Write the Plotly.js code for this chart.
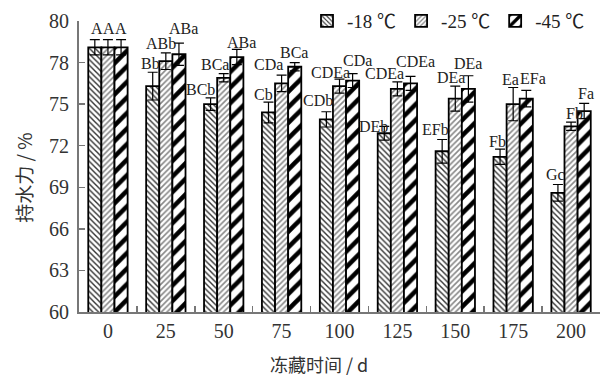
<!DOCTYPE html>
<html>
<head>
<meta charset="utf-8">
<script src="https://cdn.plot.ly/plotly-3.0.1.min.js"></script>
<style>
  html, body { margin: 0; padding: 0; background: #fff; }
  #chart { width: 600px; height: 376px; }
</style>
</head>
<body>
<div id="chart"></div>
<script>
// Storage time (days)
const days = ['0', '25', '50', '75', '100', '125', '150', '175', '200'];

// Water-holding capacity (%) and standard deviations for each freezing temperature
const series = ['-18 ℃', '-25 ℃', '-45 ℃'];
const whc18 = [79.1, 76.3, 75.0, 74.4, 73.9, 72.9, 71.6, 71.2, 68.6];
const sd18  = [0.55, 1.0, 0.45, 0.75, 0.55, 0.5, 0.85, 0.55, 0.6];
const whc25 = [79.1, 78.1, 76.9, 76.5, 76.3, 76.1, 75.4, 75.0, 73.4];
const sd25  = [0.55, 0.6, 0.3, 0.6, 0.5, 0.5, 0.9, 1.2, 0.3];
const whc45 = [79.1, 78.6, 78.4, 77.7, 76.7, 76.5, 76.1, 75.4, 74.5];
const sd45  = [0.55, 0.8, 0.55, 0.3, 0.5, 0.5, 0.95, 0.6, 0.55];

// Significance letters
const sig18 = ['A', 'Bb', 'BCb', 'Cb', 'CDb', 'DEb', 'EFb', 'Fb', 'Gc'];
const sig25 = ['A', 'ABb', 'BCa', 'CDa', 'CDEa', 'CDEa', 'DEa', 'Ea', 'Fb'];
const sig45 = ['A', 'ABa', 'ABa', 'BCa', 'CDa', 'CDEa', 'DEa', 'EFa', 'Fa'];

// Y axis ticks
const yTickVals = [60, 63, 66, 69, 72, 75, 78, 81];
const yTickText = ['60', '63', '66', '69', '72', '75', '78', '80'];

// Letter placement nudges (px): horizontal from group centre, vertical above error-bar tip
const sigDx = [
  [-11, -15.2, -23, -18, -21.3, -23.9, -19.7, -15.5, -15.8],
  [1, -4.7, -8.8, -13, -9.1, -12.9, -4.7, -2.5, 3.7],
  [13, 17.6, 18.2, 12.7, 17.6, 17.8, 12.3, 19.5, 14.7]
];
const sigDy = [
  [11.5, 9, 8, 7.2, 10.9, 0, 9.6, 7.6, 9.7],
  [11.5, 9.6, 8.7, 10.1, 7, 8.8, 8.9, 7.6, 8.3],
  [11.5, 15, 6.8, 9.9, 13, 14.8, 12.5, 11.9, 9.6]
];

const SERIF = 'Liberation Serif, "Noto Sans CJK SC", serif';
const CJK = '"Noto Sans CJK SC", Liberation Serif, sans-serif';

const values = [whc18, whc25, whc45];
const errors = [sd18, sd25, sd45];
const letters = [sig18, sig25, sig45];
const patterns = [
  { shape: '\\', size: 4, solidity: 0.35, fgcolor: '#333', bgcolor: '#fff', fillmode: 'replace' },
  { shape: '/', size: 4, solidity: 0.4, fgcolor: '#888', bgcolor: '#fff', fillmode: 'replace' },
  { shape: '/', size: 11, solidity: 0.42, fgcolor: '#000', bgcolor: '#fff', fillmode: 'replace' }
];

const traces = series.map((name, i) => ({
  type: 'bar',
  name: name,
  x: days,
  y: values[i],
  marker: {
    color: '#fff',
    pattern: patterns[i],
    line: { color: '#000', width: 1.8 }
  },
  error_y: {
    type: 'data',
    array: errors[i],
    visible: true,
    color: '#000',
    thickness: 1.2,
    width: 5
  }
}));

const annotations = [];
for (let i = 0; i < 3; i++) {
  for (let j = 0; j < days.length; j++) {
    annotations.push({
      // category axes take the serial index of the category
      x: j,
      y: values[i][j] + errors[i][j],
      xref: 'x', yref: 'y',
      text: letters[i][j],
      showarrow: false,
      xanchor: 'center', yanchor: 'middle',
      xshift: sigDx[i][j],
      yshift: sigDy[i][j],
      font: { family: SERIF, size: 16, color: '#222' }
    });
  }
}

// Axis titles
annotations.push({
  xref: 'paper', yref: 'paper',
  x: (319 - 79) / 521, y: -0.18,
  text: '冻藏时间 / d',
  showarrow: false, xanchor: 'center', yanchor: 'middle',
  font: { family: CJK, size: 18, color: '#333' }
});
annotations.push({
  xref: 'paper', yref: 'paper',
  x: -0.108, y: 0.46,
  text: '持水力 / %',
  textangle: -90,
  showarrow: false, xanchor: 'center', yanchor: 'middle',
  font: { family: CJK, size: 19, color: '#333' }
});

const layout = {
  width: 600,
  height: 376,
  margin: { l: 79, r: 0, t: 21, b: 64 },
  paper_bgcolor: '#fff',
  plot_bgcolor: '#fff',
  barmode: 'group',
  bargap: 0.32,
  bargroupgap: 0,
  showlegend: true,
  legend: {
    orientation: 'h',
    x: (590 - 79) / 521, xanchor: 'right',
    y: 1.0, yanchor: 'middle',
    font: { family: SERIF, size: 19, color: '#222' },
    bgcolor: 'rgba(0,0,0,0)',
    itemwidth: 30
  },
  xaxis: {
    type: 'category',
    range: [-0.5, 8.5],
    showline: true,
    linecolor: '#777',
    linewidth: 2,
    ticks: 'inside',
    tickson: 'boundaries',
    ticklen: 6,
    tickcolor: '#777',
    tickwidth: 1.5,
    showgrid: false,
    zeroline: false,
    tickangle: 0,
    tickfont: { family: SERIF, size: 20, color: '#333' },
    ticklabelstandoff: 0
  },
  yaxis: {
    range: [60, 81],
    tickvals: yTickVals,
    ticktext: yTickText,
    showline: true,
    linecolor: '#777',
    linewidth: 2,
    ticks: 'inside',
    ticklen: 6,
    tickcolor: '#777',
    tickwidth: 1.5,
    showgrid: false,
    zeroline: false,
    tickfont: { family: SERIF, size: 20, color: '#333' },
    ticklabelstandoff: 4
  },
  annotations: annotations
};

Plotly.newPlot('chart', traces, layout, { displayModeBar: false, staticPlot: true });
</script>
</body>
</html>
